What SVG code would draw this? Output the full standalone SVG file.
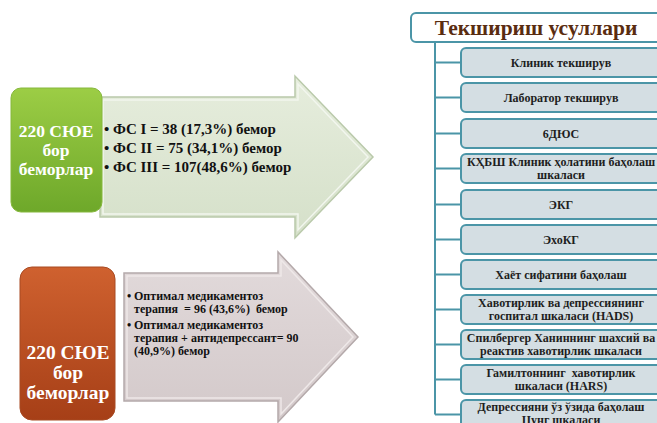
<svg xmlns="http://www.w3.org/2000/svg" width="657" height="423" viewBox="0 0 657 423">
<defs>
<linearGradient id="gGreen" x1="0" y1="0" x2="0" y2="1"><stop offset="0" stop-color="#9ccd45"/><stop offset="1" stop-color="#6ea82a"/></linearGradient>
<linearGradient id="gOrange" x1="0" y1="0" x2="0" y2="1"><stop offset="0" stop-color="#cf612f"/><stop offset="1" stop-color="#a63f17"/></linearGradient>
<linearGradient id="gArrowG" x1="0" y1="0" x2="0" y2="1"><stop offset="0" stop-color="#e6eddd"/><stop offset="1" stop-color="#d5e0c9"/></linearGradient>
<linearGradient id="gArrowP" x1="0" y1="0" x2="0" y2="1"><stop offset="0" stop-color="#e2dadb"/><stop offset="1" stop-color="#d3c9ca"/></linearGradient>
</defs>
<style>
.tl{font-family:"Liberation Serif","Times New Roman",serif;font-weight:bold;fill:#5a2c10;font-size:21.5px;text-anchor:middle}
.bx{fill:#d4dee3;stroke:#4b95a7;stroke-width:2}
.bt{font-family:"Liberation Serif","Times New Roman",serif;font-weight:bold;fill:#1e1e1e;font-size:12px;text-anchor:middle}
.wt{font-family:"Liberation Serif","Times New Roman",serif;font-weight:bold;fill:#ffffff;text-anchor:middle}
.at{font-family:"Liberation Serif","Times New Roman",serif;font-weight:bold;fill:#111111}
.ln{stroke:#4b95a7;stroke-width:2;fill:none}
</style>
<rect width="657" height="423" fill="#ffffff"/>

<g id="arrow-top">
<polygon points="100,97 295,97 295,76 373,157 295,238 295,217 100,217" fill="url(#gArrowG)" stroke="#b9c9aa" stroke-width="1.5"/>
<polygon points="103,100 298,100 298,84 368,157 298,230 298,214 103,214" fill="none" stroke="#f2f6ee" stroke-width="1.5"/>
<g class="at" font-size="15">
<text x="104" y="134">•</text><text x="113" y="134">ФС I = 38 (17,3%) бемор</text>
<text x="104" y="153">•</text><text x="113" y="153">ФС II = 75 (34,1%) бемор</text>
<text x="104" y="172">•</text><text x="113" y="172">ФС III = 107(48,6%) бемор</text>
</g>
</g>
<g id="box-green">
<rect x="11" y="88" width="91" height="124" rx="10" fill="url(#gGreen)" stroke="#86b83c" stroke-width="1"/>
<text class="wt" font-size="17.5" x="56" y="137">220 СЮЕ</text>
<text class="wt" font-size="17.5" x="56" y="156">бор</text>
<text class="wt" font-size="17.5" x="56" y="175">беморлар</text>
</g>

<g id="arrow-bottom">
<polygon points="124,273 278,273 278,252 358,337 278,422 278,401 124,401" fill="url(#gArrowP)" stroke="#b4a9aa" stroke-width="1.5"/>
<polygon points="127,276 281,276 281,260 353,337 281,414 281,398 127,398" fill="none" stroke="#eee8e8" stroke-width="1.5"/>
<g class="at" font-size="12">
<text x="127" y="300">•</text><text x="134" y="300">Оптимал медикаментоз</text>
<text x="134" y="313" xml:space="preserve">терапия  = 96 (43,6%)  бемор</text>
<text x="127" y="329">•</text><text x="134" y="329">Оптимал медикаментоз</text>
<text x="134" y="342">терапия + антидепрессант= 90</text>
<text x="134" y="355">(40,9%) бемор</text>
</g>
</g>
<g id="box-orange">
<rect x="20" y="267" width="95" height="153" rx="12" fill="url(#gOrange)" stroke="#a84a22" stroke-width="1"/>
<text class="wt" font-size="19.5" x="68" y="359">220 СЮЕ</text>
<text class="wt" font-size="19.5" x="68" y="379">бор</text>
<text class="wt" font-size="19.5" x="68" y="399">беморлар</text>
</g>

<g id="connectors">
<path class="ln" d="M435,42 V414.5 M435,62.5 H461 M435,97.5 H461 M435,133.5 H461 M435,168.5 H461 M435,204.5 H461 M435,239.5 H461 M435,274.5 H461 M435,309.5 H461 M435,344.5 H461 M435,379.5 H461 M435,414.5 H461"/>
</g>

<g id="title">
<rect x="411" y="13" width="252" height="29" rx="5" fill="#ffffff" stroke="#4b95a7" stroke-width="2"/>
<text class="tl" x="536" y="35">Текшириш усуллари</text>
</g>
<g id="m1"><rect class="bx" x="461" y="48" width="200" height="29" rx="5"/><text class="bt" x="561" y="67">Клиник текширув</text></g>
<g id="m2"><rect class="bx" x="461" y="83" width="200" height="29" rx="5"/><text class="bt" x="561" y="102">Лаборатор текширув</text></g>
<g id="m3"><rect class="bx" x="461" y="119" width="200" height="29" rx="5"/><text class="bt" x="561" y="138">6ДЮС</text></g>
<g id="m4"><rect class="bx" x="461" y="154" width="200" height="29" rx="5"/><text class="bt" x="561" y="166">КҲБШ Клиник ҳолатини баҳолаш</text><text class="bt" x="561" y="179">шкаласи</text></g>
<g id="m5"><rect class="bx" x="461" y="190" width="200" height="29" rx="5"/><text class="bt" x="561" y="209">ЭКГ</text></g>
<g id="m6"><rect class="bx" x="461" y="225" width="200" height="29" rx="5"/><text class="bt" x="561" y="244">ЭхоКГ</text></g>
<g id="m7"><rect class="bx" x="461" y="260" width="200" height="29" rx="5"/><text class="bt" x="561" y="279">Хаёт сифатини баҳолаш</text></g>
<g id="m8"><rect class="bx" x="461" y="295" width="200" height="29" rx="5"/><text class="bt" x="561" y="307">Хавотирлик ва депрессиянинг</text><text class="bt" x="561" y="320">госпитал шкаласи (HADS)</text></g>
<g id="m9"><rect class="bx" x="461" y="330" width="200" height="29" rx="5"/><text class="bt" x="561" y="342">Спилбергер Ханиннинг шахсий ва</text><text class="bt" x="561" y="355">реактив хавотирлик шкаласи</text></g>
<g id="m10"><rect class="bx" x="461" y="365" width="200" height="29" rx="5"/><text class="bt" x="561" y="377" xml:space="preserve">Гамилтоннинг  хавотирлик</text><text class="bt" x="561" y="390">шкаласи (HARS)</text></g>
<g id="m11"><rect class="bx" x="461" y="400" width="200" height="29" rx="5"/><text class="bt" x="561" y="411">Депрессияни ўз ўзида баҳолаш</text><text class="bt" x="561" y="424">Цунг шкаласи</text></g>
</svg>
